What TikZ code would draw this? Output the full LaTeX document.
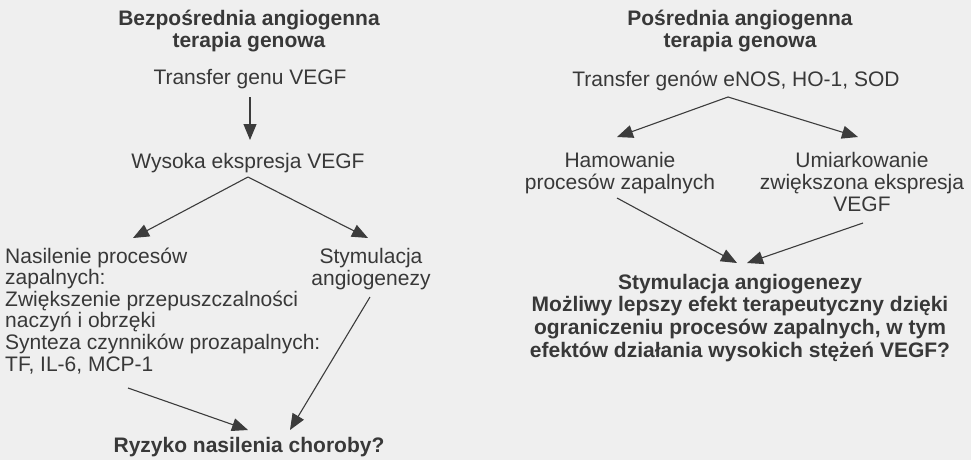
\documentclass[tikz,border=0pt]{standalone}
\usepackage{fontspec}
\setmainfont{Liberation Sans}
\usetikzlibrary{arrows.meta}
\definecolor{bg}{HTML}{EFEFEF}
\definecolor{ink}{HTML}{383838}
\definecolor{lin}{HTML}{3C3C3C}
\begin{document}
\begin{tikzpicture}[x=1pt,y=-1pt,
  txt/.style={inner sep=0pt, text=ink, font=\fontsize{21}{21.6}\selectfont, anchor=base},
  btxt/.style={inner sep=0pt, text=ink, font=\fontsize{21}{22.6}\selectfont\bfseries, anchor=base},
  arr/.style={draw=lin, line width=1.1pt, -{Triangle[length=16pt,width=13pt]}},
  ln/.style={draw=lin, line width=1.1pt}]
\fill[bg] (0,0) rectangle (971,460);
\useasboundingbox (0,0) rectangle (971,460);
% left (base anchor of a multi-line node = baseline of its last line)
\node[btxt, align=center] (tit1) at (249,48) {Bezpośrednia angiogenna\\terapia genowa};
\node[txt] (tr1) at (250,84) {Transfer genu VEGF};
\node[txt] (wys) at (248,168) {Wysoka ekspresja VEGF};
\node[txt, align=left, anchor=base west] (nas) at (5,371) {Nasilenie procesów\\zapalnych:\\Zwiększenie przepuszczalności\\naczyń i obrzęki\\Synteza czynników prozapalnych:\\TF, IL-6, MCP-1};
\node[txt, align=center] (sty) at (371,285) {Stymulacja\\angiogenezy};
\node[btxt] (ryz) at (249,452) {Ryzyko nasilenia choroby?};
% right
\node[btxt, align=center] (tit2) at (740,48) {Pośrednia angiogenna\\terapia genowa};
\node[txt] (tr2) at (736,86) {Transfer genów eNOS, HO-1, SOD};
\node[txt, align=center] (ham) at (620,189) {Hamowanie\\procesów zapalnych};
\node[txt, align=center] (umi) at (862,211) {Umiarkowanie\\zwiększona ekspresja\\VEGF};
\node[btxt, align=center] (res) at (740,357) {Stymulacja angiogenezy\\Możliwy lepszy efekt terapeutyczny dzięki\\ograniczeniu procesów zapalnych, w tym\\efektów działania wysokich stężeń VEGF?};
% connector points
\coordinate (tr1s) at (250,97);
\coordinate (wysn) at (250,140);
\coordinate (wysa) at (248,177);
\coordinate (nasn) at (133,238);
\coordinate (styn) at (368,238);
\coordinate (nass) at (128,388);
\coordinate (ryzl) at (248,430);
\coordinate (stys) at (370,297);
\coordinate (ryzr) at (290,430);
\coordinate (tr2a) at (728,97);
\coordinate (hamn) at (617,137);
\coordinate (umin) at (858,137);
\coordinate (hams) at (617,198);
\coordinate (resl) at (737,263);
\coordinate (umis) at (863,223);
\coordinate (resr) at (747,263);
\draw[arr] (tr1s) -- (wysn);
\draw[arr] (wysa) -- (nasn);
\draw[arr] (wysa) -- (styn);
\draw[arr] (nass) -- (ryzl);
\draw[arr] (stys) -- (ryzr);
\draw[arr] (tr2a) -- (hamn);
\draw[arr] (tr2a) -- (umin);
\draw[arr] (hams) -- (resl);
\draw[arr] (umis) -- (resr);
\end{tikzpicture}
\end{document}
